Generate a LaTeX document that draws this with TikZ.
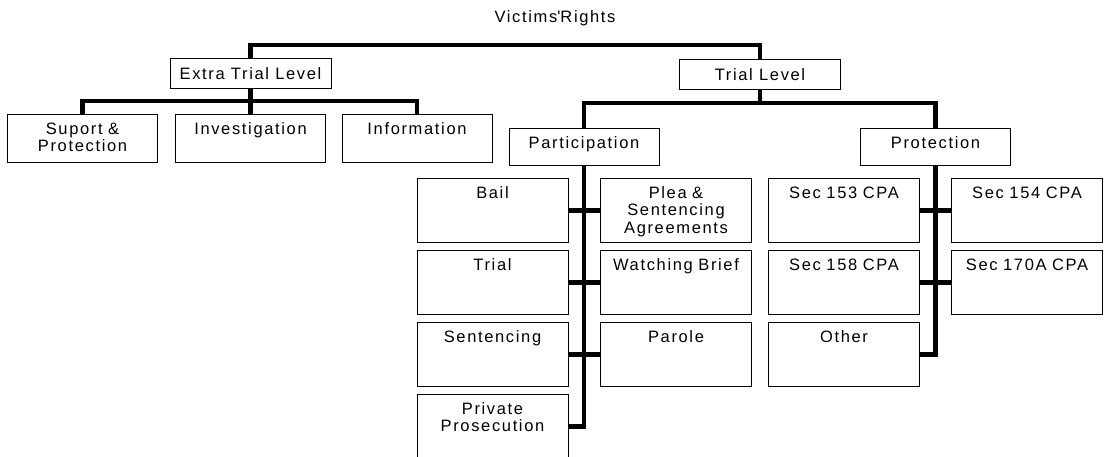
\documentclass[tikz,border=0pt]{standalone}
\usepackage{fontspec}
\setmainfont{Liberation Sans}[LetterSpace=10]
\usepackage{tikz}
\usetikzlibrary{positioning}

\begin{document}
\begin{tikzpicture}[x=1pt,y=-1pt,
  every node/.style={font=\fontsize{16.5}{17.5}\selectfont,inner sep=0pt},
  lvl/.style={draw,line width=0.8pt,minimum width=161pt,minimum height=30pt,anchor=north},
  sub/.style={draw,line width=0.8pt,text width=150pt,align=center,anchor=north,text height=20pt,text depth=28pt},
  grp/.style={sub,text depth=17pt},
  leaf/.style={sub,text width=151pt,text depth=44pt},
  conn/.style={line width=4.5pt}]
      \useasboundingbox (0,0) rectangle (1107,457);
      \node (rights) at (555,18) {Victims\textquotesingle Rights};

      \node[lvl] (extra) at (250.5,58) {Extra Trial Level};
      \node[lvl] (trial) at (760,59) {Trial Level};

      \node[sub] (suport) at (82.5,114) {Suport \&\\Protection};
      \node[sub] (invest) at (250.5,114) {Investigation};
      \node[sub] (info) at (417,114) {Information};

      \node[grp] (particip) at (584,128) {Participation};
      \node[grp] (protect) at (935.5,128) {Protection};

      \node[leaf] (bail) at (492.5,178) {Bail};
      \node[leaf] (plea) at (676,178) {Plea \&\\Sentencing\\Agreements};
      \node[leaf] (trl) at (492.5,250) {Trial};
      \node[leaf] (brief) at (676,250) {Watching Brief};
      \node[leaf] (sent) at (492.5,322) {Sentencing};
      \node[leaf] (parole) at (676,322) {Parole};
      \node[leaf] (private) at (492.5,394) {Private\\Prosecution};

      \node[leaf] (sec153) at (844,178) {Sec 153 CPA};
      \node[leaf] (sec154) at (1027,178) {Sec 154 CPA};
      \node[leaf] (sec158) at (844,250) {Sec 158 CPA};
      \node[leaf] (sec170) at (1027,250) {Sec 170A CPA};
      \node[leaf] (other) at (844,322) {Other};

      \draw[conn] (extra.north) -- (extra.north |- 0,45) -| (trial.north);

      \draw[conn] (extra.south) -- (invest.north);
      \draw[conn] (suport.north) -- (suport.north |- 0,101) -| (info.north);

      \draw[conn] (trial.south) -- (trial.south |- 0,103);
      \draw[conn] (particip.north) -- (particip.north |- 0,103) -| (protect.north);

      \draw[conn] (particip.south) |- (private.east);
      \draw[conn] (bail.east) -- (plea.west);
      \draw[conn] (trl.east) -- (brief.west);
      \draw[conn] (sent.east) -- (parole.west);

      \draw[conn] (protect.south) |- (other.east);
      \draw[conn] (sec153.east) -- (sec154.west);
      \draw[conn] (sec158.east) -- (sec170.west);
\end{tikzpicture}
\end{document}
